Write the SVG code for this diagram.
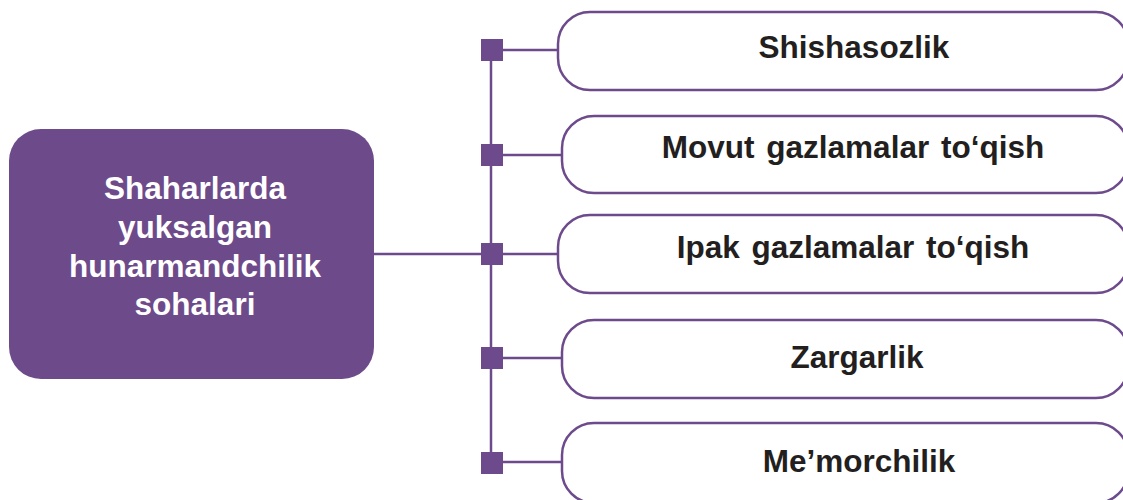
<svg xmlns="http://www.w3.org/2000/svg" width="1123" height="500" viewBox="0 0 1123 500">
<style>
.box{fill:#fff;stroke:#6d4a8c;stroke-width:2.5}
.main{fill:#6d4a8a}
.ln{stroke:#6d4a8c;stroke-width:2.5;fill:none}
.sq{fill:#6d4a8c}
.t{font-family:"Liberation Sans",Arial,sans-serif;font-weight:bold;font-size:31.5px;fill:#231f20;text-anchor:middle}
.ws{word-spacing:3px}
.w{font-family:"Liberation Sans",Arial,sans-serif;font-weight:bold;font-size:31.5px;fill:#fff;text-anchor:middle}
</style>
<rect width="1123" height="500" fill="#fff"/>
<g id="connectors">
<line class="ln" x1="491" y1="50" x2="491" y2="463"/>
<line class="ln" x1="374" y1="254" x2="491" y2="254"/>
<line class="ln" x1="492" y1="50" x2="558" y2="50"/>
<line class="ln" x1="492" y1="155" x2="562" y2="155"/>
<line class="ln" x1="492" y1="254" x2="558" y2="254"/>
<line class="ln" x1="492" y1="358" x2="562" y2="358"/>
<line class="ln" x1="492" y1="462" x2="562" y2="462"/>
<rect class="sq" x="481" y="39" width="22" height="22"/>
<rect class="sq" x="481" y="144" width="22" height="22"/>
<rect class="sq" x="481" y="243" width="22" height="22"/>
<rect class="sq" x="481" y="347" width="22" height="22"/>
<rect class="sq" x="481" y="452" width="22" height="22"/>
</g>
<g id="main">
<rect class="main" x="9" y="129" width="365" height="250" rx="32"/>
<text class="w" x="195" y="199">Shaharlarda</text>
<text class="w" x="195" y="238">yuksalgan</text>
<text class="w" x="195" y="277">hunarmandchilik</text>
<text class="w" x="195" y="315">sohalari</text>
</g>
<g id="n1">
<rect class="box" x="558" y="12" width="570" height="78" rx="32"/>
<text class="t" x="854" y="58">Shishasozlik</text>
</g>
<g id="n2">
<rect class="box" x="562" y="116" width="566" height="77" rx="32"/>
<text class="t ws" x="853" y="158">Movut gazlamalar to‘qish</text>
</g>
<g id="n3">
<rect class="box" x="558" y="215" width="570" height="78" rx="32"/>
<text class="t ws" x="853" y="258">Ipak gazlamalar to‘qish</text>
</g>
<g id="n4">
<rect class="box" x="562" y="320" width="566" height="78" rx="32"/>
<text class="t" x="857" y="368">Zargarlik</text>
</g>
<g id="n5">
<rect class="box" x="562" y="423" width="566" height="80" rx="32"/>
<text class="t" x="859" y="472">Me’morchilik</text>
</g>
</svg>
